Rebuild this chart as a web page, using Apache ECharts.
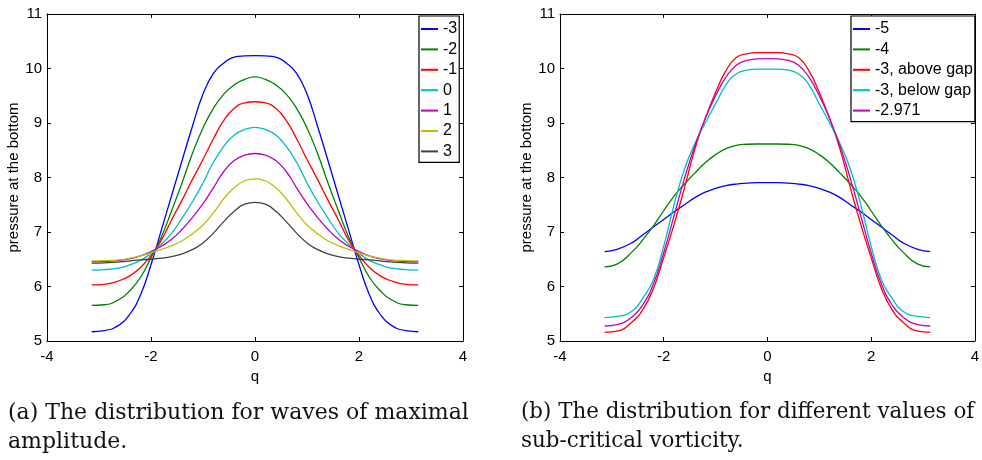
<!DOCTYPE html>
<html>
<head>
<meta charset="utf-8">
<script src="https://cdn.jsdelivr.net/npm/echarts@6/dist/echarts.min.js"></script>
<style>html,body{margin:0;padding:0;background:#fff;}#c{width:982px;height:460px;}</style>
</head>
<body>
<div id="c"></div>
<script>
// sample positions along q (shared by both panels)
var q = [-3.14,-2.9,-2.6,-2.4,-2.2,-2.0,-1.8,-1.6,-1.4,-1.2,-1.0,-0.8,-0.6,-0.4,-0.2,0,0.2,0.4,0.6,0.8,1.0,1.2,1.4,1.6,1.8,2.0,2.2,2.4,2.6,2.9,3.14];

// panel (a): waves of maximal amplitude
var namesA = ['-3','-2','-1','0','1','2','3'];
var aM3 = [5.17,5.19,5.30,5.50,5.85,6.40,7.04,7.68,8.32,8.95,9.53,9.91,10.10,10.21,10.23,10.235,10.23,10.21,10.10,9.91,9.53,8.95,8.32,7.68,7.04,6.40,5.85,5.50,5.30,5.19,5.17];
var aM2 = [5.655,5.665,5.77,5.93,6.17,6.53,6.91,7.40,7.91,8.45,8.91,9.27,9.53,9.70,9.80,9.845,9.80,9.70,9.53,9.27,8.91,8.45,7.91,7.40,6.91,6.53,6.17,5.93,5.77,5.665,5.655];
var aM1 = [6.03,6.04,6.11,6.20,6.35,6.57,6.85,7.23,7.59,7.97,8.33,8.71,9.05,9.27,9.37,9.39,9.37,9.27,9.05,8.71,8.33,7.97,7.59,7.23,6.85,6.57,6.35,6.20,6.11,6.04,6.03];
var a0  = [6.30,6.31,6.34,6.40,6.48,6.61,6.78,6.98,7.26,7.56,7.90,8.28,8.57,8.78,8.88,8.92,8.88,8.78,8.57,8.28,7.90,7.56,7.26,6.98,6.78,6.61,6.48,6.40,6.34,6.31,6.30];
var a1  = [6.455,6.46,6.48,6.51,6.56,6.64,6.74,6.87,7.05,7.27,7.52,7.81,8.11,8.31,8.41,8.44,8.41,8.31,8.11,7.81,7.52,7.27,7.05,6.87,6.74,6.64,6.56,6.51,6.48,6.46,6.455];
var a2  = [6.47,6.475,6.49,6.52,6.56,6.62,6.68,6.75,6.84,6.97,7.13,7.35,7.61,7.81,7.94,7.975,7.94,7.81,7.61,7.35,7.13,6.97,6.84,6.75,6.68,6.62,6.56,6.52,6.49,6.475,6.47];
var a3  = [6.43,6.435,6.45,6.47,6.49,6.50,6.52,6.55,6.60,6.68,6.80,6.98,7.19,7.38,7.51,7.545,7.51,7.38,7.19,6.98,6.80,6.68,6.60,6.55,6.52,6.50,6.49,6.47,6.45,6.435,6.43];

// panel (b): sub-critical vorticity
var namesB = ['-5','-4','-3, above gap','-3, below gap','-2.971'];
var bM5 = [6.64,6.68,6.81,6.95,7.09,7.23,7.37,7.50,7.63,7.73,7.80,7.85,7.88,7.895,7.905,7.905,7.905,7.895,7.88,7.85,7.80,7.73,7.63,7.50,7.37,7.23,7.09,6.95,6.81,6.68,6.64];
var bM4 = [6.36,6.41,6.645,6.86,7.11,7.39,7.66,7.88,8.08,8.27,8.42,8.53,8.59,8.61,8.615,8.615,8.615,8.61,8.59,8.53,8.42,8.27,8.08,7.88,7.66,7.39,7.11,6.86,6.645,6.41,6.36];
var bAbove = [5.16,5.18,5.36,5.58,5.96,6.53,7.14,7.81,8.52,9.08,9.56,9.96,10.20,10.27,10.29,10.29,10.29,10.27,10.20,9.96,9.56,9.08,8.52,7.81,7.14,6.53,5.96,5.58,5.36,5.18,5.16];
var bBelow = [5.43,5.45,5.555,5.79,6.12,6.74,7.50,8.15,8.62,9.00,9.35,9.70,9.90,9.97,9.99,9.99,9.99,9.97,9.90,9.70,9.35,9.00,8.62,8.15,7.50,6.74,6.12,5.79,5.555,5.45,5.43];
var b2971 = [5.275,5.30,5.45,5.67,6.04,6.62,7.30,7.98,8.58,9.08,9.50,9.84,10.06,10.15,10.175,10.18,10.175,10.15,10.06,9.84,9.50,9.08,8.58,7.98,7.30,6.62,6.04,5.67,5.45,5.30,5.275];

var xTicks = {min:-4, max:4, interval:2};
var yTicks = {min:5, max:11, interval:1};
var xName = 'q';
var yName = 'pressure at the bottom';
var captionA = ['(a) The distribution for waves of maximal', 'amplitude.'];
var captionB = ['(b) The distribution for different values of', 'sub-critical vorticity.'];

var colorsA = ['#0000ff','#008000','#ff0000','#00bfbf','#bf00bf','#bfbf00','#404040'];
var colorsB = ['#0000ff','#008000','#ff0000','#00bfbf','#bf00bf'];

var chart = echarts.init(document.getElementById('c'), null, {renderer:'canvas'});
var FONT = 'Liberation Sans';
var black = '#000';

function xAx(gi, pos, labels){
  return {
    type:'value', gridIndex:gi, position:pos, min:xTicks.min, max:xTicks.max, interval:xTicks.interval,
    name: labels ? xName : '', nameLocation:'middle', nameGap:24,
    nameTextStyle:{color:black, fontFamily:FONT, fontSize:15},
    axisLine:{show:true, onZero:false, lineStyle:{color:black, width:1}},
    axisTick:{show:true, inside:true, length:4, lineStyle:{color:black}},
    axisLabel:{show:labels, color:black, fontFamily:FONT, fontSize:15, margin:8},
    splitLine:{show:false}
  };
}
function yAx(gi, pos, labels, gap){
  return {
    type:'value', gridIndex:gi, position:pos, min:yTicks.min, max:yTicks.max, interval:yTicks.interval,
    name: labels ? yName : '', nameLocation:'middle', nameGap:gap, nameRotate:90,
    nameTextStyle:{color:black, fontFamily:FONT, fontSize:15},
    axisLine:{show:true, onZero:false, lineStyle:{color:black, width:1}},
    axisTick:{show:true, inside:true, length:4, lineStyle:{color:black}},
    axisLabel:{show:labels, color:black, fontFamily:FONT, fontSize:15, margin:5},
    splitLine:{show:false}
  };
}
function pairs(ys){ return q.map(function(x,i){ return [x, ys[i]]; }); }
function mkSeries(name, ys, color, xi, yi){
  return {type:'line', name:name, data:pairs(ys), xAxisIndex:xi, yAxisIndex:yi,
    showSymbol:false, symbol:'none', smooth:0.5, silent:true,
    lineStyle:{color:color, width:1.3}, itemStyle:{color:color}};
}

var seriesA = [aM3,aM2,aM1,a0,a1,a2,a3];
var seriesB = [bM5,bM4,bAbove,bBelow,b2971];
var series = [];
seriesA.forEach(function(ys,i){ series.push(mkSeries(namesA[i], ys, colorsA[i], 0, 0)); });
seriesB.forEach(function(ys,i){ series.push(mkSeries(namesB[i], ys, colorsB[i], 2, 2)); });

function legend(names, left, top){
  return {
    data:names, orient:'vertical', left:left, top:top, itemWidth:17, itemHeight:2, icon:'rect',
    itemGap:4.4, padding:[5,2,3,2], borderColor:black, borderWidth:1.2, backgroundColor:'#fff',
    selectedMode:false,
    textStyle:{color:black, fontFamily:FONT, fontSize:16, lineHeight:16}
  };
}

function caption(lines, x, size){
  return lines.map(function(t,i){
    return {type:'text', left:x, top:402 + i*29, style:{text:t, fill:'#111', font:size + 'px "DejaVu Serif"'}};
  });
}

chart.setOption({
  animation:false,
  backgroundColor:'#fff',
  grid:[
    {left:47, right:519, top:14, bottom:119, show:false},
    {left:560, right:6, top:14, bottom:119, show:false}
  ],
  xAxis:[xAx(0,'bottom',true), xAx(0,'top',false), xAx(1,'bottom',true), xAx(1,'top',false)],
  yAxis:[yAx(0,'left',true,22), yAx(0,'right',false,0), yAx(1,'left',true,21), yAx(1,'right',false,0)],
  legend:[legend(namesA, 419, 16), legend(namesB, 851, 16)],
  series:series,
  graphic: caption(captionA, 8, 22).concat(caption(captionB, 521, 21.4))
});
</script>
</body>
</html>
